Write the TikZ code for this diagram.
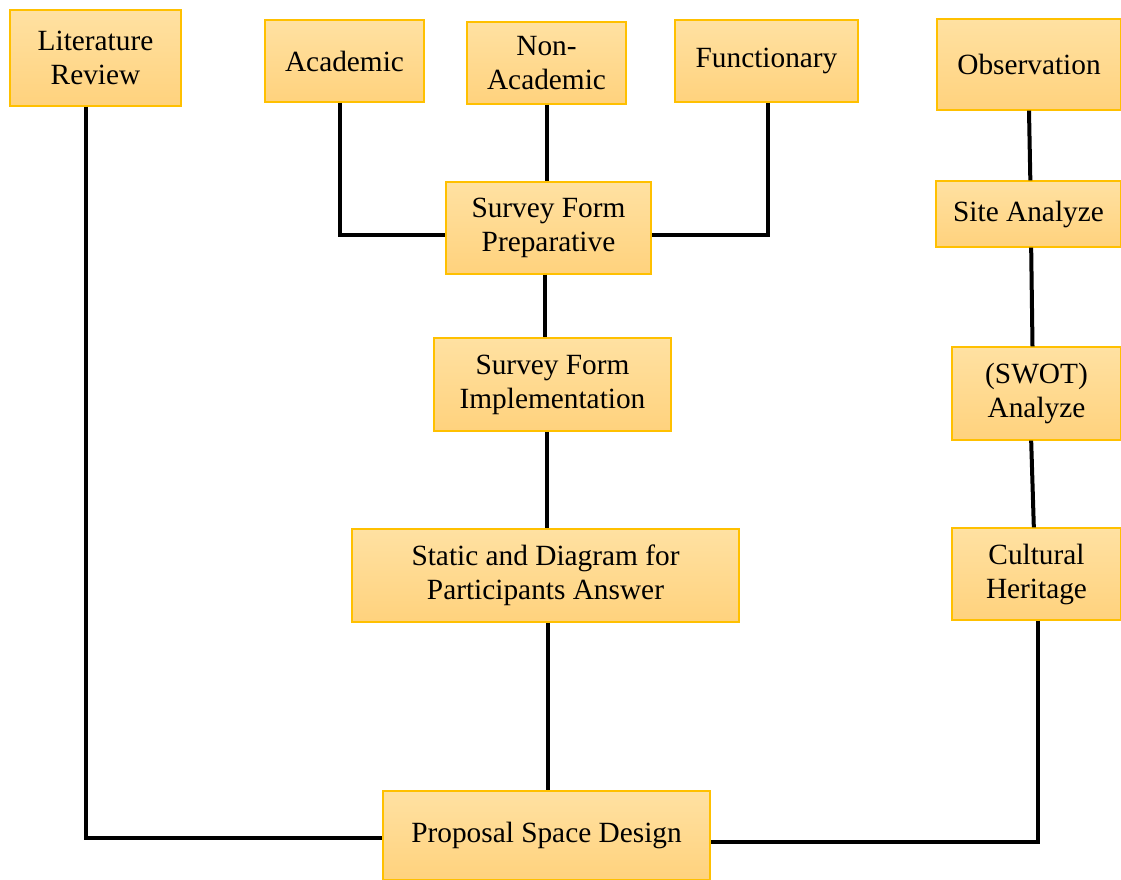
\documentclass[tikz,border=0pt]{standalone}
\usepackage{fontspec}
\setmainfont{Liberation Serif}
\usetikzlibrary{positioning}
\definecolor{boxtop}{HTML}{FFE1A2}
\definecolor{boxbottom}{HTML}{FFD27D}
\definecolor{boxline}{HTML}{FFC000}
\definecolor{ink}{HTML}{000000}
\tikzset{
  box/.style={draw=boxline, line width=0.9pt, top color=boxtop, bottom color=boxbottom, align=center, inner sep=0pt, text=ink, font=\fontsize{22}{25.5}\selectfont},
  link/.style={draw=ink, line width=3pt},
}
\begin{document}
\begin{tikzpicture}[x=0.75pt, y=-0.75pt]
\useasboundingbox (0,0) rectangle (1121,880);
% top row
\node[box, minimum width=171*0.75pt, minimum height=96*0.75pt] (lit) at (95.5,58) {Literature\\Review};
\node[box, minimum width=159*0.75pt, minimum height=82*0.75pt] (acad) at (344.5,61) {Academic};
\node[box, minimum width=159*0.75pt, minimum height=82*0.75pt] (nonacad) at (546.5,63) {Non-\\Academic};
\node[box, minimum width=183*0.75pt, minimum height=82*0.75pt] (func) at (766.5,61) {Functionary};
\node[box, minimum width=184*0.75pt, minimum height=91*0.75pt] (obs) at (1029,64.5) {Observation};
% middle column
\node[box, minimum width=205*0.75pt, minimum height=92*0.75pt] (prep) at (548.5,228) {Survey Form\\Preparative};
\node[box, minimum width=237*0.75pt, minimum height=93*0.75pt] (impl) at (552.5,384.5) {Survey Form\\Implementation};
\node[box, minimum width=387*0.75pt, minimum height=93*0.75pt] (stat) at (545.5,575.5) {Static and Diagram for\\Participants Answer};
\node[box, minimum width=327*0.75pt, minimum height=89*0.75pt] (prop) at (546.5,835.5) {Proposal Space Design};
% right column
\node[box, minimum width=185*0.75pt, minimum height=66*0.75pt] (site) at (1028.5,214) {Site Analyze};
\node[box, minimum width=169*0.75pt, minimum height=93*0.75pt] (swot) at (1036.5,393.5) {(SWOT)\\Analyze};
\node[box, minimum width=169*0.75pt, minimum height=92*0.75pt] (cult) at (1036.5,574) {Cultural\\Heritage};
% connectors
\draw[link] ([xshift=-7pt]lit.south) |- ([yshift=-2pt]prop.west);
\draw[link] ([xshift=-3.4pt]acad.south) |- ([yshift=-5pt]prep.west);
\draw[link] (nonacad.south) -- (nonacad.south |- prep.north);
\draw[link] ([xshift=1.2pt]func.south) |- ([yshift=-5pt]prep.east);
\draw[link] ([xshift=-3pt]prep.south) -- ([xshift=-3pt]prep.south |- impl.north);
\draw[link] ([xshift=-4pt]impl.south) -- ([xshift=-4pt]impl.south |- stat.north);
\draw[link] ([xshift=2pt]stat.south) -- ([xshift=2pt]stat.south |- prop.north);
\draw[link] (obs.south) -- ([xshift=1pt]obs.south |- site.north);
\draw[link] ([xshift=2pt]site.south) -- ([xshift=-3pt]swot.north);
\draw[link] ([xshift=-4pt]swot.south) -- ([xshift=-2pt]cult.north);
\draw[link] ([xshift=1pt]cult.south) |- ([yshift=-5pt]prop.east);
\end{tikzpicture}
\end{document}
